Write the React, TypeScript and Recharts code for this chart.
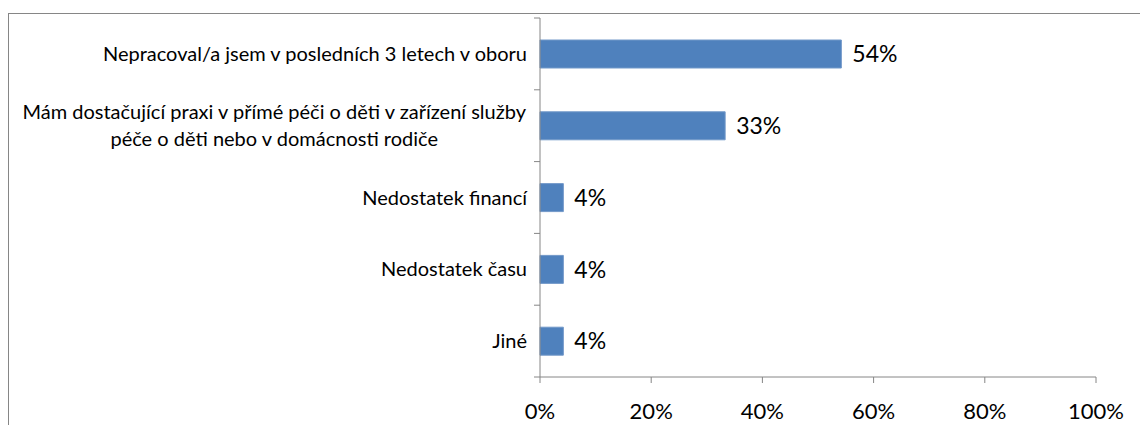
import React from 'react';
import { BarChart, Bar, XAxis, YAxis, LabelList } from 'recharts';

const categories = [
  'Nepracoval/a jsem v posledních 3 letech v oboru',
  'Mám dostačující praxi v přímé péči o děti v zařízení služby\npéče o děti nebo v domácnosti rodiče',
  'Nedostatek financí',
  'Nedostatek času',
  'Jiné',
];
const values = [54.2, 33.3, 4.2, 4.2, 4.2];
const xTicks = [0, 20, 40, 60, 80, 100];

const data = categories.map((name, i) => ({ name, value: values[i] }));

const FONT = 'Lato, Calibri, sans-serif';
const AXIS = '#868686';

const measure = (text: string, size: number) => {
  const ctx = document.createElement('canvas').getContext('2d');
  if (!ctx) return text.length * size * 0.5;
  ctx.font = `${size}px Lato`;
  return ctx.measureText(text).width;
};

const CategoryTick = (props: any) => {
  const { x, y, payload, index } = props;
  const half = payload.offset || 36;
  const lines = String(payload.value).split('\n');
  const size = 20;
  const lineH = 27;
  const right = x - 13;
  const w0 = measure(lines[0], size);
  const cx = right - w0 / 2;
  const startY = y - ((lines.length - 1) * lineH) / 2;
  return (
    <g>
      <line x1={x - 6} x2={x} y1={y - half} y2={y - half} stroke={AXIS} />
      {index === categories.length - 1 && (
        <line x1={x - 6} x2={x} y1={y + half} y2={y + half} stroke={AXIS} />
      )}
      {lines.map((l, i) => (
        <text
          key={i}
          x={lines.length > 1 ? cx : right}
          y={startY + i * lineH}
          dy="0.35em"
          textAnchor={lines.length > 1 ? 'middle' : 'end'}
          fontFamily={FONT}
          fontSize={size}
          fill="#000"
        >
          {l}
        </text>
      ))}
    </g>
  );
};

export default function App() {
  return (
    <div style={{ position: 'relative', width: 1140, height: 417, overflow: 'hidden' }}>
      <div
        style={{
          position: 'absolute',
          left: 0,
          top: 5,
          width: 1200,
          height: 500,
          border: `1px solid ${AXIS}`,
          background: '#fff',
        }}
      >
        <BarChart
          width={1130}
          height={411}
          data={data}
          layout="vertical"
          margin={{ top: 4, right: 43, bottom: 0, left: 0 }}
          barSize={28}
        >
          <XAxis
            type="number"
            domain={[0, 100]}
            ticks={xTicks}
            tickFormatter={(v: number) => `${v}%`}
            height={48}
            tickSize={6}
            tickMargin={20}
            stroke={AXIS}
            axisLine={{ stroke: AXIS }}
            tickLine={{ stroke: AXIS }}
            tick={{ fill: '#000', fontSize: 22, fontFamily: FONT }}
          />
          <YAxis
            type="category"
            dataKey="name"
            width={531}
            tickSize={0}
            tickMargin={0}
            tickLine={false}
            axisLine={{ stroke: AXIS }}
            interval={0}
            tick={<CategoryTick />}
          />
          <Bar dataKey="value" fill="#4F81BD" stroke="#7399c9" strokeWidth={1} isAnimationActive={false}>
            <LabelList
              dataKey="value"
              position="right"
              offset={11}
              formatter={(v: any) => `${Math.round(Number(v))}%`}
              style={{ fill: '#000', fontSize: 23, fontFamily: FONT }}
            />
          </Bar>
        </BarChart>
      </div>
    </div>
  );
}
